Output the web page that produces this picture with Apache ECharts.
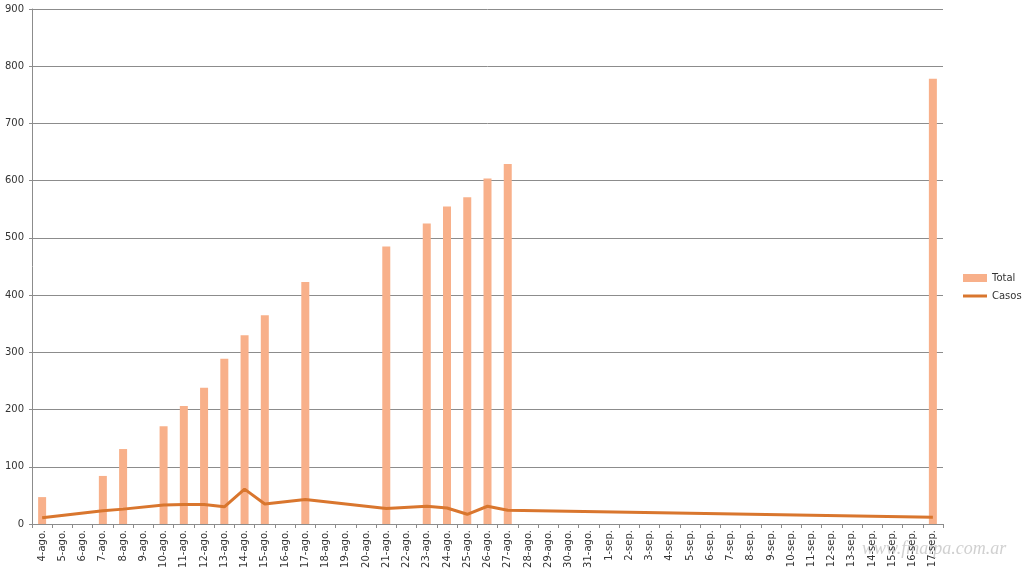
<!DOCTYPE html>
<html><head><meta charset="utf-8">
<script src="https://cdn.jsdelivr.net/npm/echarts@6/dist/echarts.min.js"></script>
<style>html,body{margin:0;padding:0;background:#fff}#c{width:1024px;height:572px}</style>
</head><body><div id="c"></div>
<script>
const categories = ["4-ago.","5-ago.","6-ago.","7-ago.","8-ago.","9-ago.","10-ago.","11-ago.","12-ago.","13-ago.","14-ago.","15-ago.","16-ago.","17-ago.","18-ago.","19-ago.","20-ago.","21-ago.","22-ago.","23-ago.","24-ago.","25-ago.","26-ago.","27-ago.","28-ago.","29-ago.","30-ago.","31-ago.","1-sep.","2-sep.","3-sep.","4-sep.","5-sep.","6-sep.","7-sep.","8-sep.","9-sep.","10-sep.","11-sep.","12-sep.","13-sep.","14-sep.","15-sep.","16-sep.","17-sep."];
const totalValues = [47,null,null,84,131,null,171,206,238,289,330,365,null,423,null,null,null,485,null,525,555,571,604,629,null,null,null,null,null,null,null,null,null,null,null,null,null,null,null,null,null,null,null,null,778];
const casosValues = [11,null,null,23,26,null,33,34,34,30,61,35,null,43,null,null,null,27,null,31,28,17,31,24,null,null,null,null,null,null,null,null,null,null,null,null,null,null,null,null,null,null,null,null,12];
const yTicks = [0,100,200,300,400,500,600,700,800,900];

const chart = echarts.init(document.getElementById('c'));
const font = 'DejaVu Sans';
chart.setOption({
  animation: false,
  backgroundColor: '#fff',
  grid: {left: 32, right: 81, top: 9, bottom: 48, containLabel: false},
  legend: {
    orient: 'vertical', left: 958, top: 268, itemGap: 8,
    itemWidth: 24, itemHeight: 8,
    textStyle: {fontFamily: font, fontSize: 10, color: '#333'},
    data: [
      {name: 'Total', icon: 'rect'},
      {name: 'Casos', icon: 'path://M0,0 L24,0 L24,3 L0,3 Z'}
    ]
  },
  xAxis: {
    type: 'category', data: categories, boundaryGap: true,
    axisLine: {lineStyle: {color: '#8c8c8c', width: 1}},
    axisTick: {show: true, alignWithLabel: false, length: 4, lineStyle: {color: '#8c8c8c'}},
    axisLabel: {rotate: 90, interval: 0, fontFamily: font, fontSize: 10, color: '#333', margin: 6}
  },
  yAxis: {
    type: 'value', min: yTicks[0], max: yTicks[yTicks.length-1], interval: 100,
    axisLine: {show: true, lineStyle: {color: '#8c8c8c'}},
    axisTick: {show: true, length: 3, lineStyle: {color: '#8c8c8c'}},
    splitLine: {lineStyle: {color: '#8c8c8c', width: 1}},
    axisLabel: {fontFamily: font, fontSize: 10, color: '#333', margin: 8}
  },
  series: [
    {name: 'Total', type: 'bar', data: totalValues, barWidth: 8,
     itemStyle: {color: '#F8B08A'}},
    {name: 'Casos', type: 'line', data: casosValues, connectNulls: true,
     symbol: 'none', lineStyle: {color: '#D9762E', width: 3},
     itemStyle: {color: '#D9762E'}}
  ],
  graphic: [{
    type: 'text', left: 862, top: 540,
    style: {text: 'www.fmaipa.com.ar', font: 'italic 18px "Liberation Serif"', fill: 'rgba(170,170,170,0.55)'}
  }]
});
</script></body></html>
